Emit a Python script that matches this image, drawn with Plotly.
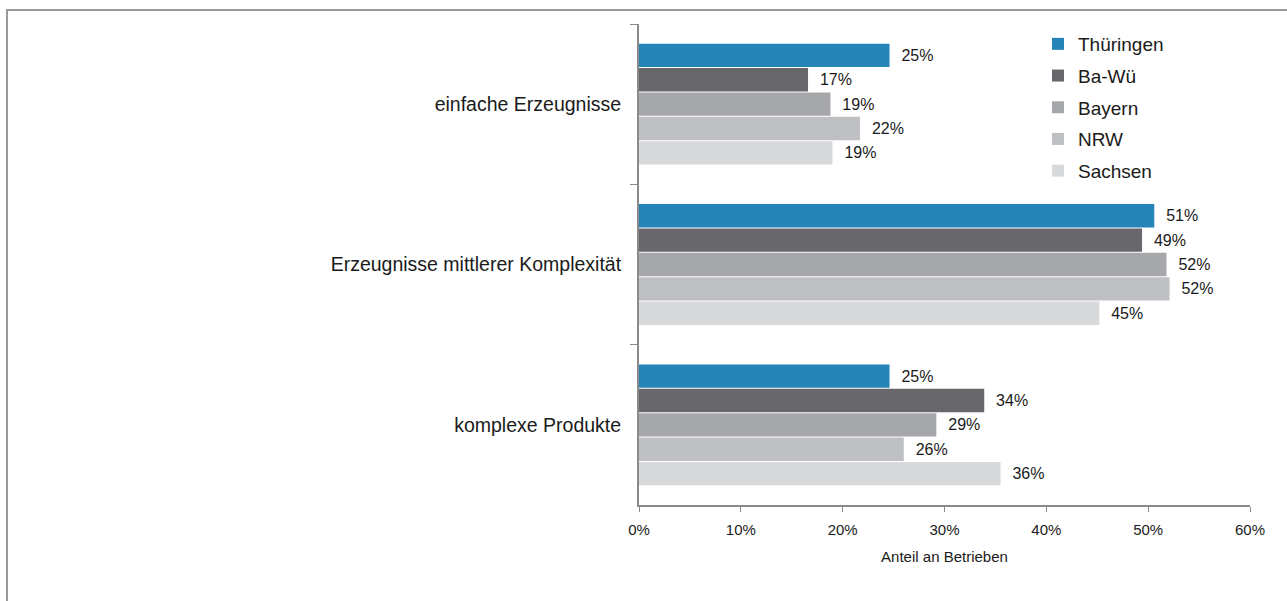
import plotly.graph_objects as go

# Produktkomplexität nach Bundesland (Anteil an Betrieben)
categories = ["einfache Erzeugnisse", "Erzeugnisse mittlerer Komplexität", "komplexe Produkte"]
regions = ["Thüringen", "Ba-Wü", "Bayern", "NRW", "Sachsen"]
values = {
    "Thüringen": [0.246, 0.506, 0.246],
    "Ba-Wü":     [0.166, 0.494, 0.339],
    "Bayern":    [0.188, 0.518, 0.292],
    "NRW":       [0.217, 0.521, 0.260],
    "Sachsen":   [0.190, 0.452, 0.355],
}
colors = {
    "Thüringen": "#2585b8",
    "Ba-Wü": "#68676b",
    "Bayern": "#a6a7aa",
    "NRW": "#bfc0c3",
    "Sachsen": "#d8d9db",
}
x_ticks = [0, 0.1, 0.2, 0.3, 0.4, 0.5, 0.6]

FONT = "Liberation Sans, Arial, sans-serif"

fig = go.Figure()
for name in regions:
    fig.add_trace(go.Bar(
        y=categories,
        x=values[name],
        name=name,
        orientation="h",
        legendgroup=name,
        marker=dict(color=colors[name], line=dict(width=0)),
        texttemplate="\u00a0\u00a0%{x:.0%}",
        textposition="outside",
        textfont=dict(family=FONT, size=16, color="#1a1a1a"),
        cliponaxis=False,
        hoverinfo="skip",
    ))

W, H = 1287, 601
L, R, T, B = 639, 37, 24, 96
pw, ph = W - L - R, H - T - B

def px_x(px):
    return (px - L) / pw

def px_y(py):
    return (H - B - py) / ph

fig.update_layout(
    width=W, height=H,
    margin=dict(l=L, r=R, t=T, b=B),
    paper_bgcolor="white",
    plot_bgcolor="white",
    barmode="group",
    bargap=0.24,
    bargroupgap=0.04,
    font=dict(family=FONT, color="#1a1a1a"),
    showlegend=True,
    legend=dict(
        x=px_x(1038), y=px_y(25), xanchor="left", yanchor="top",
        traceorder="grouped", tracegroupgap=4,
        font=dict(family=FONT, size=19, color="#1a1a1a"),
        bgcolor="rgba(0,0,0,0)",
    ),
    xaxis=dict(
        range=[0, 0.6],
        tickvals=x_ticks,
        tickformat=".0%",
        showgrid=False, zeroline=False,
        showline=True, linecolor="#8a8a8a", linewidth=2,
        ticks="outside", ticklen=5, tickcolor="#8a8a8a", tickwidth=1,
        ticklabelstandoff=5,
        tickfont=dict(family=FONT, size=15, color="#1a1a1a"),
        title=dict(text="Anteil an Betrieben", standoff=14,
                   font=dict(family=FONT, size=15, color="#1a1a1a")),
    ),
    yaxis=dict(
        type="category",
        autorange="reversed",
        showgrid=False, zeroline=False,
        showline=True, linecolor="#8a8a8a", linewidth=2,
        ticks="outside", ticklen=7, tickcolor="#8a8a8a", tickwidth=1,
        tickson="boundaries",
        ticklabelstandoff=12,
        tickfont=dict(family=FONT, size=19.5, color="#1a1a1a"),
    ),
    shapes=[dict(
        type="rect", xref="paper", yref="paper",
        x0=px_x(7), x1=px_x(1320), y0=px_y(640), y1=px_y(10),
        line=dict(color="#9a9a9a", width=2),
        fillcolor="rgba(0,0,0,0)", layer="below",
    )],
)

fig.write_html("out.html")
